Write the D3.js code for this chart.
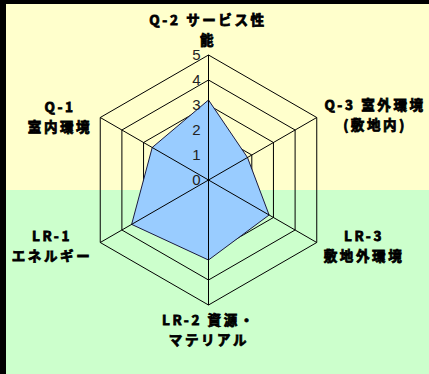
<!DOCTYPE html>
<html>
<head>
<meta charset="utf-8">
<script src="https://cdn.jsdelivr.net/npm/d3@7"></script>
<style>
body { margin: 0; }
svg { display: block; }
</style>
</head>
<body>
<script>
var categories = [
    ['Q-2 サービス性', '能']
    , ['Q-3 室外環境', '(敷地内)']
    , ['LR-3', '敷地外環境']
    , ['LR-2 資源・', 'マテリアル']
    , ['LR-1', 'エネルギー']
    , ['Q-1', '室内環境']
];
var scores = [3.2, 1.8, 2.8, 3.2, 3.55, 2.6];
var ticks = [0, 1, 2, 3, 4, 5];

var width = 429, height = 374;
var cx = 208.5, cy = 180;

var svg = d3.select('body').append('svg')
    .attr('width', width)
    .attr('height', height);

// backgrounds
svg.append('rect').attr('x', 0).attr('y', 0).attr('width', width).attr('height', 191).attr('fill', '#ffffcc');
svg.append('rect').attr('x', 0).attr('y', 190).attr('width', width).attr('height', height - 190).attr('fill', '#ccffcc');
svg.append('rect').attr('x', 0).attr('y', 0).attr('width', width).attr('height', 4).attr('fill', '#000');
svg.append('rect').attr('x', 0).attr('y', 0).attr('width', 6).attr('height', height).attr('fill', '#000');

var r = d3.scaleLinear().domain([0, 5]).range([0, 125]);
var angle = d3.scaleLinear().domain([0, categories.length]).range([0, 2 * Math.PI]);

function pt(i, v) {
    var a = angle(i);
    return [cx + r(v) * Math.sin(a), cy - r(v) * Math.cos(a)];
}

var g = svg.append('g');

// rings
g.selectAll('.ring')
    .data(ticks.slice(1))
    .enter()
    .append('polygon')
    .attr('class', 'ring')
    .attr('points', function(t) {
        return categories.map(function(c, i) { return pt(i, t).join(','); }).join(' ');
    })
    .attr('fill', 'none')
    .attr('stroke', '#000')
    .attr('stroke-width', 1);

// data
g.append('polygon')
    .datum(scores)
    .attr('points', function(d) {
        return d.map(function(v, i) { return pt(i, v).join(','); }).join(' ');
    })
    .attr('fill', '#99ccff')
    .attr('stroke', '#1a1a40')
    .attr('stroke-width', 1);

// spokes
g.selectAll('.spoke')
    .data(categories)
    .enter()
    .append('line')
    .attr('class', 'spoke')
    .attr('x1', cx).attr('y1', cy)
    .attr('x2', function(d, i) { return pt(i, 5)[0]; })
    .attr('y2', function(d, i) { return pt(i, 5)[1]; })
    .attr('stroke', '#000')
    .attr('stroke-width', 1);

// tick labels
g.selectAll('.tick')
    .data(ticks)
    .enter()
    .append('text')
    .attr('class', 'tick')
    .attr('x', cx - 8)
    .attr('y', function(t) { return cy - r(t); })
    .attr('dy', '0.36em')
    .attr('text-anchor', 'end')
    .style('font-family', 'Liberation Sans, Arial, sans-serif')
    .style('font-size', '15px')
    .style('fill', '#222')
    .text(function(t) { return t; });

// category labels
var labelPos = [
    [208, 25]
    , [375, 110]
    , [364, 241]
    , [209, 325]
    , [52, 241]
    , [60, 112]
];

var labels = svg.selectAll('.label')
    .data(categories)
    .enter()
    .append('text')
    .attr('class', 'label')
    .attr('text-anchor', 'middle')
    .style('font-family', '"Noto Sans CJK JP", "Noto Sans", sans-serif')
    .style('font-weight', 'bold')
    .style('font-size', '13.5px')
    .style('letter-spacing', '2.6px')
    .style('fill', '#000')
    .style('stroke', '#000')
    .style('stroke-width', 0.8);

labels.selectAll('tspan')
    .data(function(d, i) {
        return d.map(function(s, j) { return {s: s, i: i, j: j}; });
    })
    .enter()
    .append('tspan')
    .attr('x', function(d) { return labelPos[d.i][0]; })
    .attr('y', function(d) { return labelPos[d.i][1] + d.j * 20; })
    .text(function(d) { return d.s; });
</script>
</body>
</html>
